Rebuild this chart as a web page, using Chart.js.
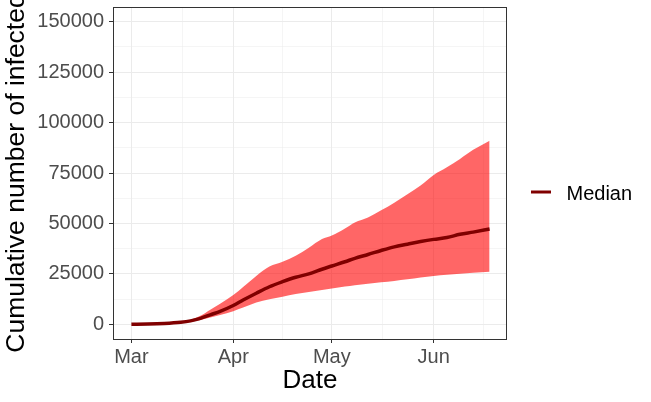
<!DOCTYPE html>
<html><head><meta charset="utf-8">
<style>html,body{margin:0;padding:0;background:#fff;}#wrap{width:651px;height:402px;}</style>
<script src="https://cdn.jsdelivr.net/npm/chart.js@4"></script>
</head><body><div id="wrap"><canvas id="c" width="651" height="402"></canvas></div>
<script>
// Days since 1 March
const days          = [0,   5,   10,  15,   18,   21,   24,   27,    31,    34,    38,    42,    46,    50,    54,    58,    61,    65,    68,    72,    76,    80,    84,    88,    92,    96,    100,   104,   109];
const medianValues  = [0,   100, 400, 1000, 1700, 2900, 4700, 6400,  9300,  12000, 15400, 18600, 21100, 23300, 25000, 27300, 28900, 31000, 32700, 34600, 36600, 38400, 39700, 41000, 42100, 43000, 44600, 45700, 47200];
const lowerValues   = [0,   80,  300, 800,  1300, 2100, 3400, 4600,  6500,  8300,  10800, 12400, 13700, 15000, 16000, 17000, 17700, 18700, 19400, 20100, 20800, 21500, 22300, 23200, 24000, 24500, 25000, 25600, 26100];
const upperValues   = [0,   150, 550, 1300, 2300, 4200, 7200, 10200, 14500, 18500, 24000, 28600, 31000, 34000, 38000, 42300, 44000, 47500, 50500, 53000, 56500, 60300, 64500, 68800, 74000, 77800, 82000, 86500, 91000];

const xTickDays   = [0, 31, 61, 92];
const xTickLabels = ['Mar', 'Apr', 'May', 'Jun'];
const xMinorDays  = [15.5, 46, 76.5, 107];
const yMajorTicks = [0, 25000, 50000, 75000, 100000, 125000, 150000];
const yMinorTicks = [12500, 37500, 62500, 87500, 112500, 137500];

const seriesLabel = 'Median';
const xTitle = 'Date';
const yTitle = 'Cumulative number of infected';

const FONT = "'Liberation Sans', Arial, Helvetica, sans-serif";

const toPts = arr => arr.map((v, i) => ({x: days[i], y: v}));

const panelBorder = {
  id: 'panelBorder',
  afterDatasetsDraw(chart) {
    const a = chart.chartArea, c = chart.ctx;
    c.save();
    c.strokeStyle = '#333333';
    c.lineWidth = 1;
    c.strokeRect(a.left + 0.5, a.top + 0.5, a.right - a.left - 1, a.bottom - a.top);
    c.restore();
  }
};

const sideLegend = {
  id: 'sideLegend',
  afterDraw(chart) {
    const c = chart.ctx;
    const ds = chart.data.datasets[0];
    c.save();
    c.strokeStyle = ds.borderColor;
    c.lineWidth = 3;
    c.lineCap = 'butt';
    c.beginPath();
    c.moveTo(531, 192);
    c.lineTo(551, 192);
    c.stroke();
    c.fillStyle = '#000000';
    c.font = '20px ' + FONT;
    c.textBaseline = 'alphabetic';
    c.textAlign = 'left';
    c.fillText(ds.label, 566.5, 199.5);
    c.restore();
  }
};

const isXMajor = ctx => ctx.tick && xTickDays.includes(ctx.tick.value);
const isYMajor = ctx => ctx.tick && yMajorTicks.includes(ctx.tick.value);

new Chart(document.getElementById('c'), {
  type: 'line',
  data: {
    datasets: [
      {label: seriesLabel, data: toPts(medianValues), borderColor: '#800000', borderWidth: 3.5,
       pointRadius: 0, fill: false, cubicInterpolationMode: 'monotone', order: 0},
      {label: 'lower', data: toPts(lowerValues), borderWidth: 0, borderColor: 'rgba(0,0,0,0)',
       pointRadius: 0, fill: false, cubicInterpolationMode: 'monotone', order: 1},
      {label: 'upper', data: toPts(upperValues), borderWidth: 0, borderColor: 'rgba(0,0,0,0)',
       backgroundColor: 'rgba(255,0,0,0.6)', pointRadius: 0, fill: '-1', cubicInterpolationMode: 'monotone', order: 1}
    ]
  },
  options: {
    responsive: false,
    animation: false,
    devicePixelRatio: 1,
    layout: {padding: {left: 0, right: 144, top: 7, bottom: 0}},
    plugins: {legend: {display: false}, tooltip: {enabled: false}},
    scales: {
      x: {
        type: 'linear', min: -5.6, max: 114.3,
        afterBuildTicks: s => { s.ticks = xTickDays.concat(xMinorDays).sort((a, b) => a - b).map(v => ({value: v})); },
        afterFit: s => { s.height = 63; s.paddingLeft = 0; s.paddingRight = 0; },
        border: {display: false},
        grid: {
          color: '#EBEBEB',
          lineWidth: ctx => isXMajor(ctx) ? 1 : 0.5,
          tickColor: ctx => isXMajor(ctx) ? '#333333' : 'rgba(0,0,0,0)',
          tickLength: 4, drawTicks: true
        },
        ticks: {
          autoSkip: false, maxRotation: 0, color: '#4D4D4D', padding: 2,
          font: {family: FONT, size: 20},
          callback: v => { const i = xTickDays.indexOf(v); return i >= 0 ? xTickLabels[i] : ''; }
        },
        title: {display: true, text: xTitle, color: '#000000', font: {family: FONT, size: 26}, padding: {top: 0, bottom: 6}}
      },
      y: {
        type: 'linear', min: -7294, max: 157294,
        afterBuildTicks: s => { s.ticks = yMajorTicks.concat(yMinorTicks).sort((a, b) => a - b).map(v => ({value: v})); },
        afterFit: s => { s.width = 113; s.paddingTop = 0; s.paddingBottom = 0; },
        border: {display: false},
        grid: {
          color: '#EBEBEB',
          lineWidth: ctx => isYMajor(ctx) ? 1 : 0.5,
          tickColor: ctx => isYMajor(ctx) ? '#333333' : 'rgba(0,0,0,0)',
          tickLength: 4, drawTicks: true
        },
        ticks: {
          autoSkip: false, color: '#4D4D4D', padding: 5,
          font: {family: FONT, size: 20},
          callback: v => yMajorTicks.includes(v) ? String(v) : ''
        },
        title: {display: true, text: yTitle, color: '#000000', font: {family: FONT, size: 26.5}, padding: {top: 1, bottom: 0}}
      }
    }
  },
  plugins: [panelBorder, sideLegend]
});
</script></body></html>
